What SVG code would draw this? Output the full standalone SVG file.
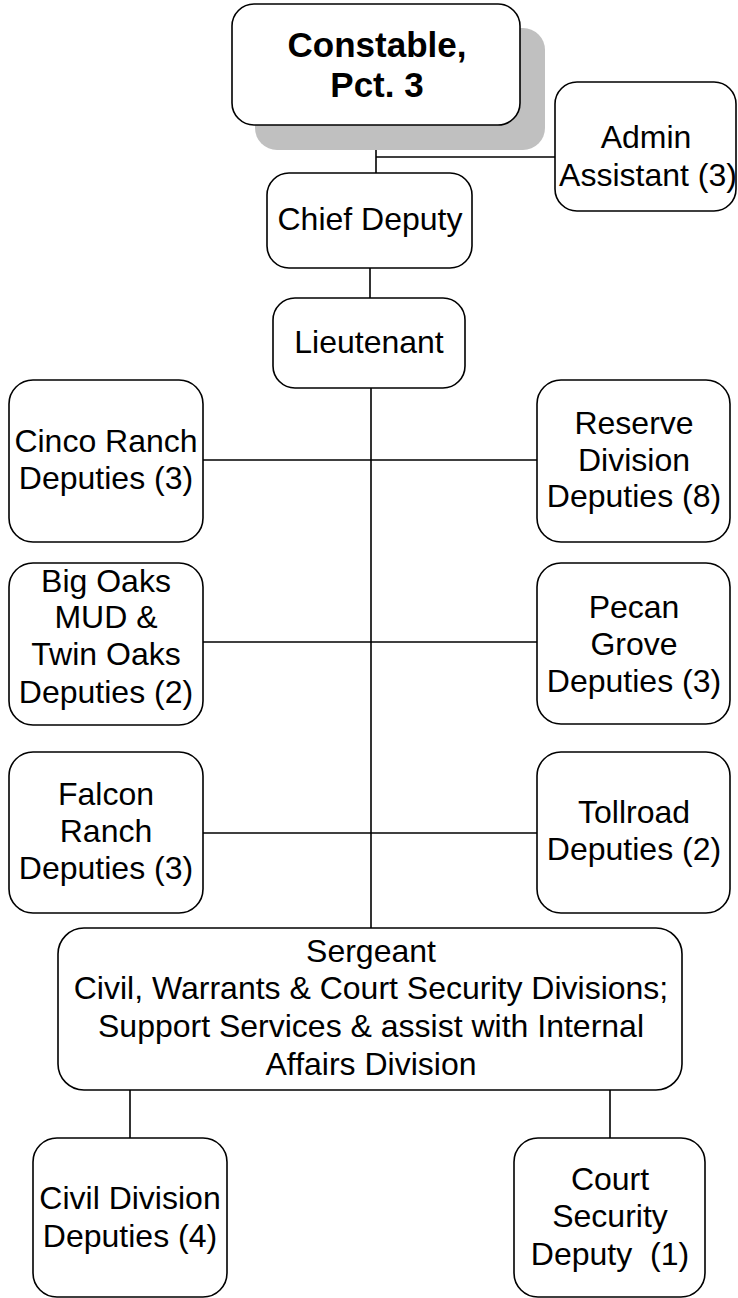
<svg xmlns="http://www.w3.org/2000/svg" width="738" height="1298" viewBox="0 0 738 1298">
  <style>
    .box { fill: #ffffff; stroke: #000000; stroke-width: 1.6; }
    .shadow { fill: #c0c0c0; stroke: none; }
    .lbl { font-family: "Liberation Sans", Arial, sans-serif; font-size: 32px; fill: #000000; text-anchor: middle; }
    .title { font-family: "Liberation Sans", Arial, sans-serif; font-size: 35px; font-weight: bold; fill: #000000; text-anchor: middle; }
    .link { stroke: #000000; stroke-width: 1.6; fill: none; }
  </style>
  <rect width="738" height="1298" fill="#ffffff"/>

  <g id="connectors">
    <line class="link" x1="376" y1="125" x2="376" y2="173"/>
    <line class="link" x1="376" y1="157" x2="555" y2="157"/>
    <line class="link" x1="370" y1="268" x2="370" y2="298"/>
    <line class="link" x1="371" y1="388" x2="371" y2="928"/>
    <line class="link" x1="203" y1="460" x2="537" y2="460"/>
    <line class="link" x1="203" y1="642" x2="537" y2="642"/>
    <line class="link" x1="203" y1="833" x2="537" y2="833"/>
    <line class="link" x1="130" y1="1090" x2="130" y2="1138"/>
    <line class="link" x1="610" y1="1090" x2="610" y2="1138"/>
  </g>

  <g id="constable">
    <rect class="shadow" x="255" y="28" width="290" height="122" rx="22"/>
    <rect class="box" x="232" y="4" width="288" height="121" rx="22"/>
    <text class="title" x="377" y="57">Constable,</text>
    <text class="title" x="377" y="97">Pct. 3</text>
  </g>

  <g id="admin-assistant">
    <rect class="box" x="555" y="82" width="181" height="129" rx="22"/>
    <text class="lbl" x="646" y="148">Admin</text>
    <text class="lbl" x="648" y="186">Assistant (3)</text>
  </g>

  <g id="chief-deputy">
    <rect class="box" x="267" y="173" width="205" height="95" rx="22"/>
    <text class="lbl" x="370" y="230">Chief Deputy</text>
  </g>

  <g id="lieutenant">
    <rect class="box" x="273" y="298" width="192" height="90" rx="22"/>
    <text class="lbl" x="369" y="353">Lieutenant</text>
  </g>

  <g id="cinco-ranch">
    <rect class="box" x="9" y="380" width="194" height="162" rx="24"/>
    <text class="lbl" x="106" y="452">Cinco Ranch</text>
    <text class="lbl" x="106" y="489">Deputies (3)</text>
  </g>

  <g id="reserve-division">
    <rect class="box" x="537" y="380" width="193" height="162" rx="24"/>
    <text class="lbl" x="634" y="434">Reserve</text>
    <text class="lbl" x="634" y="471">Division</text>
    <text class="lbl" x="634" y="507">Deputies (8)</text>
  </g>

  <g id="big-oaks">
    <rect class="box" x="9" y="563" width="194" height="162" rx="24"/>
    <text class="lbl" x="106" y="592">Big Oaks</text>
    <text class="lbl" x="106" y="628">MUD &amp;</text>
    <text class="lbl" x="106" y="665">Twin Oaks</text>
    <text class="lbl" x="106" y="703">Deputies (2)</text>
  </g>

  <g id="pecan-grove">
    <rect class="box" x="537" y="563" width="193" height="161" rx="24"/>
    <text class="lbl" x="634" y="618">Pecan</text>
    <text class="lbl" x="634" y="655">Grove</text>
    <text class="lbl" x="634" y="692">Deputies (3)</text>
  </g>

  <g id="falcon-ranch">
    <rect class="box" x="9" y="752" width="194" height="161" rx="24"/>
    <text class="lbl" x="106" y="805">Falcon</text>
    <text class="lbl" x="106" y="842">Ranch</text>
    <text class="lbl" x="106" y="879">Deputies (3)</text>
  </g>

  <g id="tollroad">
    <rect class="box" x="537" y="752" width="193" height="161" rx="24"/>
    <text class="lbl" x="634" y="823">Tollroad</text>
    <text class="lbl" x="634" y="860">Deputies (2)</text>
  </g>

  <g id="sergeant">
    <rect class="box" x="58" y="928" width="624" height="162" rx="26"/>
    <text class="lbl" x="371" y="962">Sergeant</text>
    <text class="lbl" x="371" y="999">Civil, Warrants &amp; Court Security Divisions;</text>
    <text class="lbl" x="371" y="1037">Support Services &amp; assist with Internal</text>
    <text class="lbl" x="371" y="1075">Affairs Division</text>
  </g>

  <g id="civil-division">
    <rect class="box" x="33" y="1138" width="194" height="159" rx="24"/>
    <text class="lbl" x="130" y="1209">Civil Division</text>
    <text class="lbl" x="130" y="1247">Deputies (4)</text>
  </g>

  <g id="court-security">
    <rect class="box" x="514" y="1138" width="191" height="159" rx="24"/>
    <text class="lbl" x="610" y="1190">Court</text>
    <text class="lbl" x="610" y="1227">Security</text>
    <text class="lbl" x="610" y="1265" xml:space="preserve">Deputy  (1)</text>
  </g>
</svg>
